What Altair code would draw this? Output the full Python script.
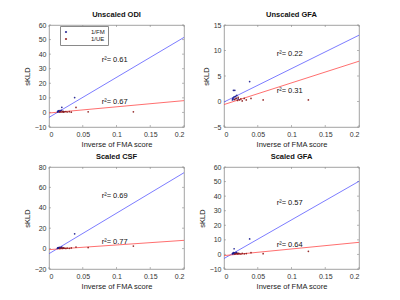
import altair as alt
import pandas as pd

# ---------------- data ----------------
series_names = ["1/FM", "1/UE"]
x_ticks = [0, 0.05, 0.1, 0.15, 0.2]
fit_x = [0, 0.2]

fm_x = [0.0125, 0.013, 0.0135, 0.014, 0.015, 0.015, 0.016, 0.017, 0.018, 0.019, 0.021, 0.038]
ue_x = [0.016, 0.018, 0.020, 0.021, 0.023, 0.025, 0.027, 0.030, 0.033, 0.040, 0.058, 0.125]

# Unscaled ODI
odi_fm_y = [0.3, 0.8, 0.5, 1.0, 0.6, 1.2, 0.4, 0.9, 1.5, 3.5, 0.7, 10.2]
odi_ue_y = [0.5, 0.3, 0.8, 0.2, 0.4, 0.6, 0.3, 0.5, 0.2, 3.4, 0.4, 0.4]
odi_fm_fit = [-3.4, 51.5]
odi_ue_fit = [-0.4, 8.1]
odi_yticks = [-10, 0, 10, 20, 30, 40, 50, 60]
odi_r2 = ["0.61", "0.67"]
odi_lab_y = [35.7, 7.4]

# Unscaled GFA
gfa_fm_y = [0.3, 0.5, 0.7, 2.2, 0.9, 0.4, 2.2, 1.0, 0.6, 1.2, 0.5, 3.9]
gfa_ue_y = [0.4, 0.6, 0.2, 0.8, 0.3, 0.5, 0.1, 0.6, 0.3, 0.6, 0.3, 0.3]
gfa_fm_fit = [-0.1, 13.0]
gfa_ue_fit = [-0.6, 7.9]
gfa_yticks = [-5, 0, 5, 10, 15]
gfa_r2 = ["0.22", "0.31"]
gfa_lab_y = [9.4, 2.1]

# Scaled CSF
csf_fm_y = [0.3, 0.5, 0.8, 1.0, 0.6, 0.4, 1.2, 0.7, 0.9, 1.5, 0.5, 14.5]
csf_ue_y = [0.2, 0.5, 0.3, 0.6, 0.4, 0.2, 0.5, 0.3, 0.6, 1.5, 1.0, 2.5]
csf_fm_fit = [-5.0, 74.4]
csf_ue_fit = [-1.0, 8.1]
csf_yticks = [-20, 0, 20, 40, 60, 80]
csf_r2 = ["0.69", "0.77"]
csf_lab_y = [52.0, 6.5]

# Scaled GFA
sgfa_fm_y = [0.4, 0.8, 0.6, 1.2, 3.9, 0.5, 1.0, 0.7, 1.5, 1.0, 0.6, 10.6]
sgfa_ue_y = [0.3, 0.6, 0.4, 0.8, 0.5, 0.3, 0.7, 0.4, 0.6, 1.2, 0.5, 2.1]
sgfa_fm_fit = [-2.8, 50.2]
sgfa_ue_fit = [-0.8, 8.3]
sgfa_yticks = [-10, 0, 10, 20, 30, 40, 50, 60]
sgfa_r2 = ["0.57", "0.64"]
sgfa_lab_y = [35.3, 6.2]

label_x = 0.078

# ---------------- styling ----------------
W, H = 135, 102
FONT = "Liberation Sans"
TICK = 2
GRAY = "#8a8a8a"


def panel(title, fm_y, ue_y, fm_fit, ue_fit, yticks, r2, lab_y, show_legend):
    pts = pd.DataFrame({
        "x": fm_x + ue_x,
        "y": fm_y + ue_y,
        "series": [series_names[0]] * len(fm_x) + [series_names[1]] * len(ue_x),
    })
    fits = pd.DataFrame({
        "x": fit_x + fit_x,
        "y": fm_fit + ue_fit,
        "fit": ["fit " + series_names[0]] * 2 + ["fit " + series_names[1]] * 2,
    })
    labels = pd.DataFrame({
        "x": [label_x, label_x],
        "y": lab_y,
        "t": ["r\u00b2= " + r2[0], "r\u00b2= " + r2[1]],
    })
    xt = pd.DataFrame({"x": x_ticks})
    yt = pd.DataFrame({"y": yticks})

    xscale = alt.Scale(domain=[x_ticks[0], x_ticks[-1]], nice=False, zero=False)
    yscale = alt.Scale(domain=[yticks[0], yticks[-1]], nice=False, zero=False)
    xaxis = alt.Axis(values=x_ticks, format="~g", title="Inverse of FMA score")
    yaxis = alt.Axis(values=yticks, format="d", title="sKLD")
    X = alt.X("x:Q", scale=xscale, axis=xaxis)
    Y = alt.Y("y:Q", scale=yscale, axis=yaxis)

    if show_legend:
        leg = alt.Legend(
            title=None, orient="none", legendX=11, legendY=1, direction="vertical",
            padding=3, strokeColor=GRAY, fillColor="white", labelFontSize=6,
            labelFont=FONT, symbolSize=5, symbolType="circle", labelOffset=22,
            rowPadding=1, labelColor="#222",
        )
    else:
        leg = None

    points = alt.Chart(pts).mark_point(filled=True, size=3, opacity=0.9).encode(
        x=X, y=Y,
        color=alt.Color("series:N", scale=alt.Scale(domain=series_names, range=["#1a1a8c", "#8c1a1a"]), legend=leg),
    )
    lines = alt.Chart(fits).mark_line(strokeWidth=0.8, clip=True).encode(
        x=X, y=Y,
        stroke=alt.Stroke("fit:N", scale=alt.Scale(range=["#5a5aff", "#ff4a4a"]), legend=None),
    )
    text = alt.Chart(labels).mark_text(align="left", baseline="middle", fontSize=7.5, font=FONT, color="#111").encode(
        x=X, y=Y, text="t:N"
    )
    tb = alt.Chart(xt).mark_rule(color=GRAY, strokeWidth=0.6).encode(x=X, y=alt.value(H), y2=alt.value(H - TICK))
    tt = alt.Chart(xt).mark_rule(color=GRAY, strokeWidth=0.6).encode(x=X, y=alt.value(0), y2=alt.value(TICK))
    tl = alt.Chart(yt).mark_rule(color=GRAY, strokeWidth=0.6).encode(y=Y, x=alt.value(0), x2=alt.value(TICK))
    tr = alt.Chart(yt).mark_rule(color=GRAY, strokeWidth=0.6).encode(y=Y, x=alt.value(W), x2=alt.value(W - TICK))

    return alt.layer(tb, tt, tl, tr, lines, points, text).properties(
        width=W, height=H,
        title=alt.TitleParams(title, fontSize=7.5, fontWeight="bold", font=FONT, offset=3, color="#111"),
    )


p1 = panel("Unscaled ODI", odi_fm_y, odi_ue_y, odi_fm_fit, odi_ue_fit, odi_yticks, odi_r2, odi_lab_y, True)
p2 = panel("Unscaled GFA", gfa_fm_y, gfa_ue_y, gfa_fm_fit, gfa_ue_fit, gfa_yticks, gfa_r2, gfa_lab_y, False)
p3 = panel("Scaled CSF", csf_fm_y, csf_ue_y, csf_fm_fit, csf_ue_fit, csf_yticks, csf_r2, csf_lab_y, False)
p4 = panel("Scaled GFA", sgfa_fm_y, sgfa_ue_y, sgfa_fm_fit, sgfa_ue_fit, sgfa_yticks, sgfa_r2, sgfa_lab_y, False)

chart = alt.concat(p1, p2, p3, p4, columns=2, spacing=40, bounds="flush").resolve_scale(
    color="independent", stroke="independent"
).properties(
    padding={"left": 22, "top": 10, "right": 5, "bottom": 5},
    background="white",
).configure_view(
    stroke=GRAY, strokeWidth=0.8
).configure_axis(
    domain=False, ticks=False, grid=False, labelFontSize=7, labelFont=FONT, labelColor="#333",
    labelPadding=3, titleFontSize=7.5, titleFont=FONT, titleFontWeight="normal", titleColor="#222",
    titlePadding=3,
)

chart.save("out.html", embed_options={"renderer": "svg", "actions": False})
